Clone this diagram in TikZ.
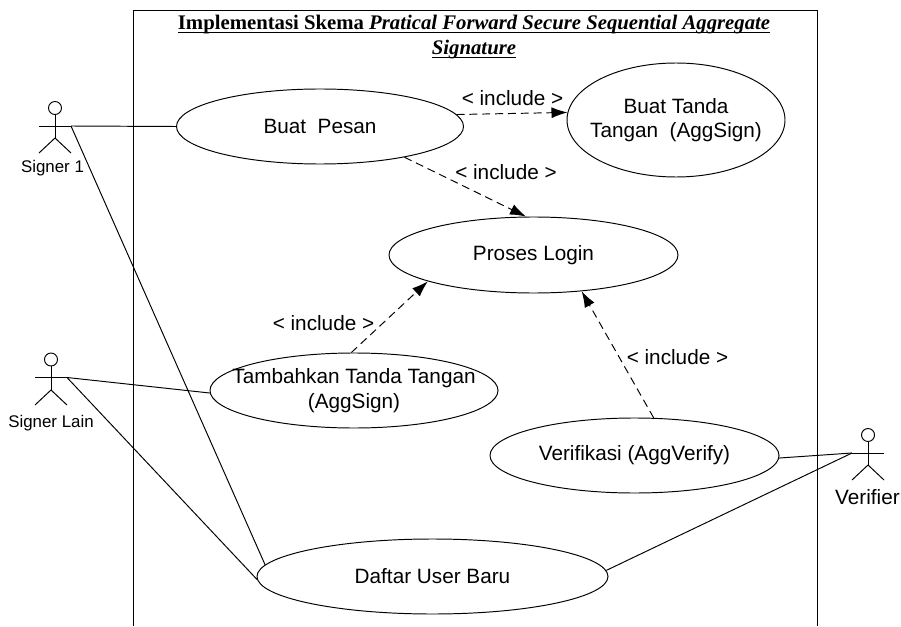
\documentclass[tikz,border=0pt]{standalone}
\usepackage{fontspec}
\setmainfont{Liberation Sans}
\newfontfamily\titlefont{Liberation Serif}
\usetikzlibrary{arrows.meta,shapes.geometric}
\tikzset{
    usecase/.style={draw,ellipse,inner sep=0pt,font=\fontsize{11.8}{13.9}\selectfont,align=center},
    include/.style={draw,dash pattern=on 4.5pt off 2.8pt,-{Latex[length=3.2mm,width=2.2mm]}},
    lbl/.style={font=\fontsize{11.8}{13.9}\selectfont,align=center},
    actorlbl/.style={font=\fontsize{9.6}{12}\selectfont}
}
\begin{document}
\begin{tikzpicture}[line width=0.55pt]
    \useasboundingbox (0,0) rectangle (18.02,12.52);

    % System frame
    \draw (2.66,0) -- (2.66,12.32) -- (16.34,12.32) -- (16.34,0);
    \node[font=\titlefont\fontsize{11.8}{14.2}\selectfont\bfseries,align=center] (title) at (9.48,11.64)
        {\underline{\smash{Implementasi Skema \textit{Pratical Forward Secure Sequential Aggregate}}}\\
         \underline{\smash{\textit{Signature}}}};

    % Use cases
    \node[usecase,minimum width=5.74cm,minimum height=1.5cm] (pesan) at (6.40,9.99) {Buat\ \ Pesan};
    \node[usecase,minimum width=4.36cm,minimum height=2.28cm,label={[lbl]center:{Buat Tanda\\Tangan\ \ (AggSign)}}] (tanda) at (13.52,10.12) {};
    \node[usecase,minimum width=5.78cm,minimum height=1.52cm] (login) at (10.67,7.42) {Proses Login};
    \node[usecase,minimum width=5.76cm,minimum height=1.5cm,label={[lbl]center:{Tambahkan Tanda Tangan\\(AggSign)}}] (tambah) at (7.08,4.71) {};
    \node[usecase,minimum width=5.78cm,minimum height=1.5cm] (verif) at (12.69,3.41) {Verifikasi (AggVerify)};
    \node[usecase,minimum width=7.02cm,minimum height=1.5cm] (daftar) at (8.65,0.99) {Daftar User Baru};

    % Signer 1
    \draw (1.10,10.36) circle (0.13);
    \draw (1.10,10.23) -- (1.10,9.76);
    \draw (1.10,9.76) -- (0.78,9.46);
    \draw (1.10,9.76) -- (1.42,9.46);
    \draw (0.78,10.00) -- (1.42,10.00);
    \coordinate (signerA) at (1.42,10.00);
    \node[actorlbl] (signerAlbl) at (1.05,9.16) {Signer 1};

    % Signer Lain
    \draw (1.02,5.33) circle (0.13);
    \draw (1.02,5.20) -- (1.02,4.72);
    \draw (1.02,4.72) -- (0.70,4.42);
    \draw (1.02,4.72) -- (1.34,4.42);
    \draw (0.70,4.97) -- (1.34,4.97);
    \coordinate (signerB) at (1.34,4.97);
    \node[actorlbl] (signerBlbl) at (1.02,4.06) {Signer Lain};

    % Verifier
    \draw (17.36,3.82) circle (0.13);
    \draw (17.36,3.69) -- (17.36,3.22);
    \draw (17.36,3.22) -- (17.04,2.92);
    \draw (17.36,3.22) -- (17.68,2.92);
    \draw (17.04,3.46) -- (17.68,3.46);
    \coordinate (verifier) at (17.04,3.46);
    \node[lbl] (verifierlbl) at (17.35,2.58) {Verifier};

    % Associations
    \draw (signerA) -- (pesan.west);
    \draw (signerA) -- (daftar.176.8);
    \draw (signerB) -- (tambah.181);
    \draw (signerB) -- (daftar.181);
    \draw (verifier) -- (verif.-1);
    \draw (verifier) -- (daftar.2.5);

    % Includes
    \draw[include] (pesan.5.7) -- (tanda.176.5);
    \draw[include] (pesan.-20.2) -- (login.101.2);
    \draw[include] (tambah.94.6) -- (login.-166.7);
    \draw[include] (verif.63.7) -- (login.-37.9);
    \node[lbl] (incA) at (10.25,10.56) {< include >};
    \node[lbl] (incB) at (10.12,9.08) {< include >};
    \node[lbl] (incC) at (6.47,6.06) {< include >};
    \node[lbl] (incD) at (13.55,5.38) {< include >};
\end{tikzpicture}
\end{document}
